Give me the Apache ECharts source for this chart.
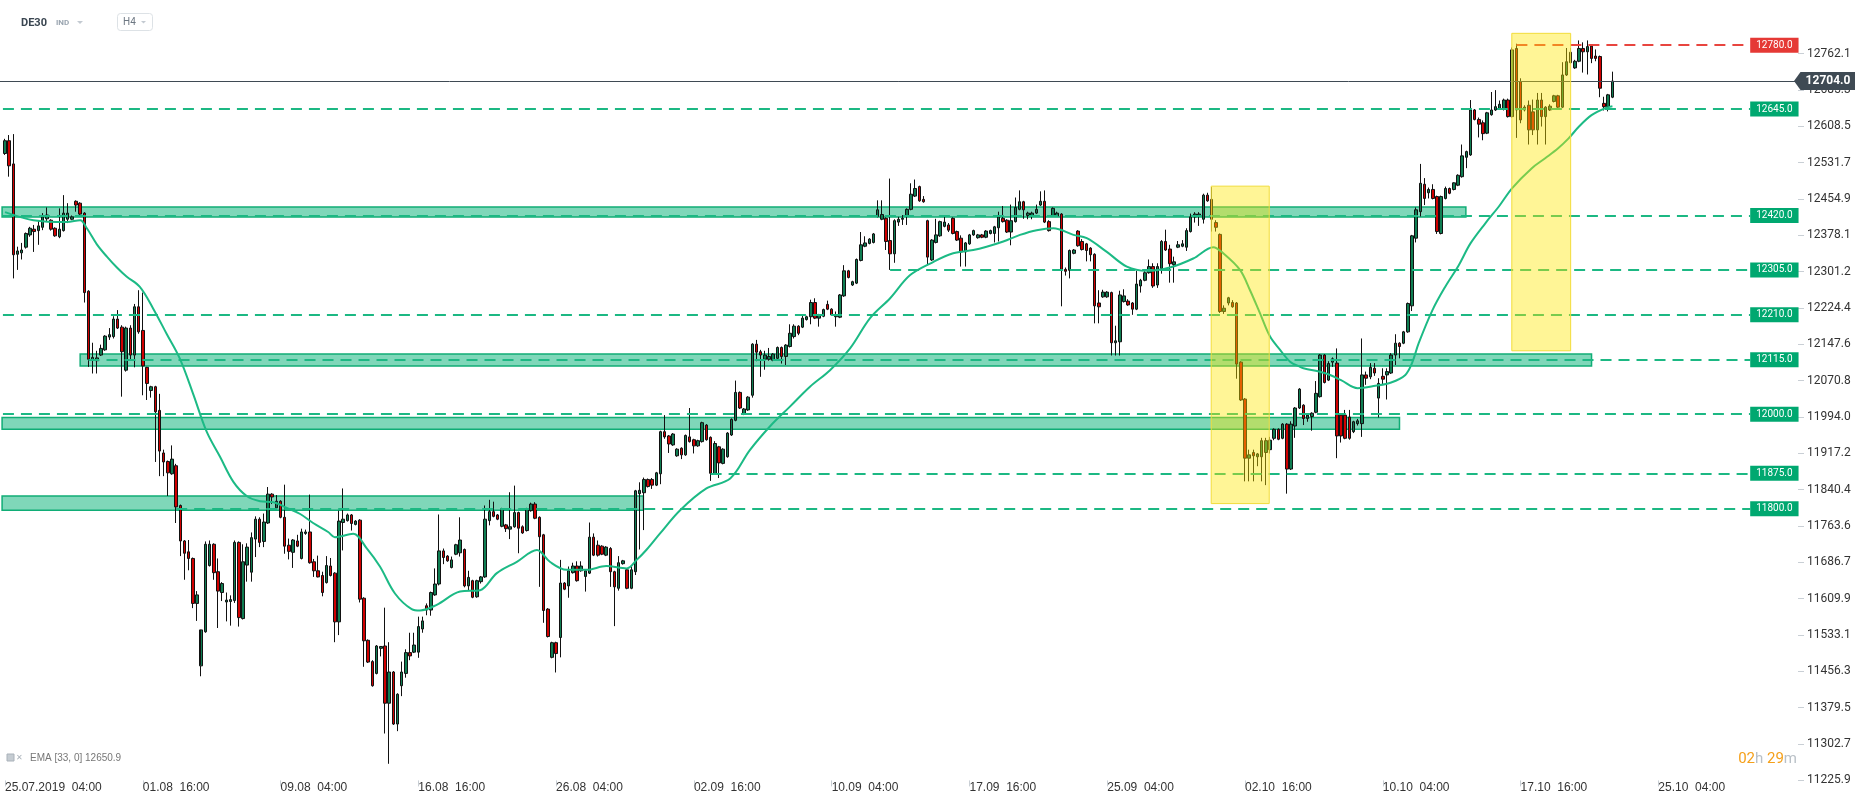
<!DOCTYPE html>
<html><head><meta charset="utf-8">
<script src="https://cdn.jsdelivr.net/npm/echarts@6/dist/echarts.min.js"></script>
<style>html,body{margin:0;padding:0;background:#fff}#c{width:1866px;height:805px}</style>
</head><body><div id="c"></div>
<script>
// ---- DATA (H4 candles, index 0 = 25.07.2019 04:00) ----
const ohlc = [
[12551,12578,12548,12582],[12578,12525,12502,12590],[12529,12337,12287,12592],[12338,12345,12305,12354],[12341,12347,12327,12362],
[12353,12382,12350,12384],[12379,12393,12375,12396],[12391,12386,12343,12400],[12388,12398,12358,12410],[12395,12417,12389,12425],
[12413,12421,12408,12437],[12410,12391,12388,12412],[12393,12377,12375,12395],[12375,12391,12372,12435],[12388,12425,12386,12463],
[12412,12425,12404,12446],[12412,12417,12410,12420],[12450,12442,12428,12452],[12446,12423,12420,12448],[12425,12257,12236,12427],
[12260,12116,12100,12262],[12115,12120,12086,12151],[12113,12119,12086,12134],[12125,12139,12123,12147],[12136,12165,12134,12167],
[12163,12168,12157,12182],[12164,12201,12160,12207],[12201,12182,12180,12220],[12184,12132,12037,12188],[12093,12182,12090,12185],
[12182,12125,12115,12188],[12125,12227,12099,12233],[12227,12174,12170,12262],[12177,12102,12040,12257],[12099,12065,12030,12100],
[12050,12058,12035,12060],[12058,12005,11899,12060],[12008,11922,11869,12043],[11918,11899,11869,11925],[11900,11876,11827,11902],
[11874,11905,11872,11934],[11891,11804,11770,11895],[11807,11732,11700,11809],[11732,11706,11650,11734],[11709,11695,11670,11734],
[11695,11600,11590,11697],[11600,11618,11563,11626],[11468,11544,11446,11470],[11540,11725,11538,11731],[11680,11725,11678,11733],
[11725,11665,11650,11727],[11667,11626,11548,11695],[11623,11642,11605,11645],[11603,11607,11562,11623],[11604,11608,11553,11617],
[11606,11729,11601,11733],[11729,11570,11551,11731],[11568,11688,11566,11725],[11681,11719,11646,11727],[11666,11739,11646,11750],
[11736,11778,11698,11784],[11778,11729,11719,11782],[11731,11772,11719,11790],[11770,11831,11768,11846],[11831,11825,11810,11833],
[11802,11816,11800,11829],[11816,11782,11780,11818],[11782,11721,11705,11851],[11723,11710,11693,11737],[11708,11734,11675,11736],
[11732,11721,11719,11745],[11695,11751,11693,11758],[11748,11751,11745,11756],[11751,11686,11684,11830],[11688,11669,11656,11694],
[11669,11656,11655,11701],[11659,11623,11615,11667],[11644,11680,11642,11700],[11679,11659,11657,11696],[11664,11561,11518,11666],
[11561,11774,11533,11796],[11771,11778,11712,11843],[11775,11787,11773,11790],[11787,11769,11754,11789],[11767,11774,11765,11776],
[11776,11609,11602,11778],[11611,11521,11466,11613],[11522,11476,11474,11524],[11477,11426,11424,11480],[11452,11510,11450,11512],
[11505,11509,11488,11510],[11510,11389,11325,11591],[11389,11455,11261,11518],[11455,11345,11343,11457],[11345,11408,11330,11410],
[11426,11455,11404,11477],[11452,11496,11443,11503],[11496,11489,11480,11538],[11497,11512,11495,11538],[11497,11551,11485,11572],
[11546,11563,11538,11572],[11595,11586,11575,11600],[11586,11623,11574,11625],[11618,11641,11616,11674],[11641,11711,11638,11788],
[11711,11697,11683,11716],[11700,11690,11688,11702],[11676,11692,11674,11699],[11704,11724,11702,11726],[11707,11734,11699,11782],
[11714,11637,11634,11716],[11637,11655,11627,11669],[11648,11613,11611,11650],[11614,11648,11612,11650],[11646,11656,11642,11658],
[11656,11778,11654,11807],[11775,11794,11765,11819],[11794,11784,11782,11815],[11787,11778,11776,11789],[11763,11800,11761,11802],
[11766,11758,11751,11768],[11757,11762,11736,11835],[11762,11792,11760,11849],[11792,11759,11706,11794],[11762,11749,11747,11765],
[11754,11799,11752,11802],[11796,11810,11794,11813],[11810,11780,11778,11814],[11782,11741,11635,11784],[11745,11585,11559,11747],
[11588,11530,11528,11590],[11486,11517,11484,11519],[11517,11494,11454,11519],[11528,11643,11486,11692],[11643,11630,11628,11645],
[11637,11669,11612,11678],[11665,11679,11663,11686],[11679,11648,11646,11689],[11669,11679,11667,11689],[11657,11669,11625,11671],
[11664,11740,11662,11771],[11740,11702,11700,11748],[11723,11702,11699,11733],[11721,11704,11702,11723],[11702,11719,11700,11721],
[11716,11667,11635,11719],[11667,11635,11552,11669],[11632,11686,11627,11700],[11684,11690,11682,11692],[11671,11632,11630,11673],
[11632,11671,11630,11678],[11667,11838,11660,11840],[11832,11839,11714,11856],[11834,11862,11755,11866],[11862,11847,11845,11864],
[11862,11850,11842,11865],[11850,11876,11848,11878],[11874,11963,11852,11965],[11963,11952,11948,11998],[11954,11937,11918,11956],
[11935,11958,11933,11960],[11912,11926,11910,11928],[11928,11914,11905,11930],[11914,11955,11912,11957],[11952,11942,11940,12013],
[11946,11933,11917,11948],[11933,11944,11931,11946],[11942,11982,11940,11984],[11977,11946,11944,11979],[11951,11875,11859,11953],
[11874,11938,11872,11943],[11931,11897,11865,11933],[11896,11926,11894,11928],[11910,11960,11908,11962],[11956,11989,11954,11991],
[11987,12046,11985,12071],[12046,12013,12011,12048],[12000,12011,11998,12013],[12009,12036,12007,12038],[12040,12148,12035,12150],
[12148,12131,12112,12157],[12132,12125,12079,12136],[12116,12125,12094,12134],[12116,12122,12113,12140],[12114,12127,12112,12129],
[12118,12141,12116,12143],[12141,12122,12107,12143],[12122,12146,12104,12148],[12143,12171,12141,12190],[12164,12186,12160,12190],
[12186,12171,12167,12188],[12184,12203,12182,12208],[12200,12206,12198,12208],[12206,12236,12190,12242],[12236,12203,12201,12245],
[12203,12210,12185,12212],[12207,12221,12205,12223],[12232,12222,12220,12240],[12222,12210,12208,12224],[12206,12210,12185,12217],
[12205,12252,12203,12254],[12250,12303,12248,12315],[12303,12289,12287,12305],[12273,12280,12271,12282],[12277,12327,12275,12329],
[12325,12358,12323,12385],[12355,12362,12353,12376],[12361,12370,12359,12372],[12363,12381,12361,12383],[12418,12432,12416,12452],
[12412,12422,12410,12452],[12414,12365,12347,12416],[12367,12339,12305,12498],[12339,12409,12320,12412],[12406,12412,12398,12417],
[12412,12414,12400,12421],[12419,12433,12400,12435],[12433,12465,12431,12488],[12461,12477,12459,12496],[12481,12451,12449,12483],
[12454,12449,12447,12461],[12409,12332,12315,12411],[12326,12368,12324,12370],[12363,12379,12361,12413],[12377,12407,12375,12409],
[12397,12406,12395,12421],[12400,12389,12385,12404],[12414,12382,12380,12416],[12386,12368,12366,12388],[12372,12343,12312,12378],
[12343,12362,12312,12364],[12360,12379,12358,12381],[12379,12388,12377,12390],[12373,12379,12371,12381],[12379,12374,12372,12381],
[12374,12387,12372,12389],[12382,12388,12380,12390],[12382,12396,12363,12398],[12394,12417,12365,12428],[12414,12407,12405,12440],
[12410,12385,12383,12412],[12385,12409,12357,12443],[12407,12437,12405,12458],[12433,12449,12431,12473],[12449,12432,12413,12451],
[12420,12425,12412,12428],[12418,12425,12412,12428],[12425,12433,12423,12443],[12442,12450,12440,12471],[12450,12406,12404,12473],
[12407,12388,12386,12410],[12419,12435,12417,12437],[12419,12425,12417,12428],[12423,12306,12228,12425],[12306,12302,12293,12310],
[12304,12346,12287,12348],[12340,12347,12338,12349],[12387,12356,12354,12389],[12365,12348,12346,12370],[12360,12346,12323,12362],
[12351,12337,12323,12353],[12338,12229,12192,12340],[12235,12227,12192,12262],[12248,12258,12246,12263],[12248,12258,12246,12260],
[12257,12151,12124,12259],[12151,12155,12124,12187],[12153,12252,12124,12261],[12238,12250,12236,12264],[12239,12231,12229,12243],
[12235,12222,12210,12237],[12222,12275,12220,12303],[12271,12283,12257,12286],[12283,12299,12281,12304],[12299,12312,12297,12327],
[12312,12271,12267,12319],[12273,12312,12267,12319],[12308,12365,12297,12368],[12365,12347,12345,12390],[12349,12318,12278,12358],
[12316,12322,12278,12333],[12353,12358,12351,12366],[12355,12360,12353,12368],[12353,12388,12345,12393],[12386,12417,12384,12424],
[12417,12423,12405,12427],[12419,12423,12398,12427],[12412,12463,12403,12466],[12463,12451,12449,12468],[12454,12412,12386,12480],
[12405,12395,12386,12410],[12380,12217,12214,12382],[12217,12224,12212,12230],[12235,12246,12230,12248],[12236,12227,12225,12241],
[12235,12106,12075,12237],[12110,12030,12028,12112],[12032,11907,11858,12034],[11907,11914,11858,11925],[11919,11912,11858,11925],
[11910,11916,11890,11918],[11910,11944,11858,11950],[11919,11944,11850,11950],[11925,11945,11917,11952],[11949,11968,11945,11970],
[11968,11947,11945,11970],[11949,11979,11947,11981],[11979,11884,11832,11981],[11884,11979,11882,11985],[11975,12013,11950,12015],
[12013,12053,12011,12055],[12019,11991,11977,12021],[11991,11998,11984,12000],[11995,12002,11965,12004],[12004,12044,12002,12070],
[12037,12125,12035,12127],[12125,12067,12065,12127],[12072,12107,12070,12112],[12110,12117,12100,12120],[12108,11954,11907,12139],
[11998,11954,11940,12000],[11998,11949,11947,12009],[11994,11949,11946,12009],[11963,11984,11960,11986],[11980,11986,11976,11990],
[11980,12083,11952,12160],[12083,12076,12062,12090],[12079,12099,12074,12108],[12097,12087,12081,12108],[12034,12065,11993,12076],
[12080,12074,12062,12097],[12083,12090,12031,12097],[12087,12125,12085,12129],[12125,12150,12104,12169],[12150,12143,12118,12152],
[12150,12174,12148,12176],[12174,12234,12172,12236],[12229,12377,12218,12379],[12372,12432,12363,12437],[12428,12488,12418,12529],
[12486,12456,12442,12499],[12468,12475,12456,12479],[12475,12456,12454,12486],[12460,12386,12381,12462],[12382,12460,12380,12462],
[12456,12477,12454,12481],[12477,12467,12465,12479],[12475,12489,12473,12490],[12484,12505,12482,12507],[12502,12546,12500,12570],
[12543,12555,12520,12557],[12548,12643,12546,12664],[12643,12623,12621,12645],[12623,12613,12585,12627],[12616,12593,12579,12621],
[12594,12637,12592,12639],[12633,12643,12631,12681],[12643,12650,12641,12685],[12646,12655,12644,12663],[12644,12664,12642,12667],
[12664,12629,12627,12667],[12629,12770,12627,12775],[12773,12643,12584,12783],[12703,12622,12615,12710],[12643,12649,12640,12653],
[12653,12601,12570,12663],[12639,12601,12590,12665],[12601,12664,12570,12679],[12664,12629,12608,12679],[12629,12649,12570,12651],
[12643,12651,12641,12655],[12661,12673,12659,12675],[12673,12649,12647,12675],[12649,12717,12647,12744],[12717,12745,12715,12774],
[12743,12765,12741,12774],[12732,12746,12730,12749],[12746,12773,12744,12790],[12773,12766,12722,12786],[12766,12777,12718,12790],
[12778,12752,12742,12781],[12757,12752,12746,12771],[12756,12689,12670,12758],[12657,12650,12642,12671],[12650,12675,12640,12677],
[12670,12704,12668,12724]
];
// EMA(33) line: [candle position, value]
const emaPts = [
[0,12427],[6.8,12410],[14.8,12406],[18,12410],[19.6,12393],[22,12359],[24.4,12333],[26.8,12310],[29.1,12291],[32.3,12269],
[35.5,12223],[38.7,12170],[41.9,12117],[45.1,12042],[48.3,11963],[51.5,11910],[54.7,11857],[57.9,11827],[61.1,11816],[64.3,11814],
[67.5,11802],[70.7,11789],[73.8,11770],[77.4,11751],[79,11740],[83.4,11747],[86.6,11717],[89.8,11678],[93.4,11621],[97.4,11588],
[99.4,11585],[103.4,11597],[109,11625],[113.8,11628],[117.8,11664],[122.6,11688],[127.4,11713],[130.5,11688],[134.5,11671],[139.3,11671],
[144,11679],[148.9,11674],[151.3,11692],[153.7,11714],[156.9,11748],[161.7,11797],[168,11843],[173.7,11864],[178.4,11924],[183.2,11974],
[188,12016],[192.8,12058],[197.6,12093],[202.4,12139],[207.2,12203],[212,12245],[216.8,12294],[222.4,12322],[227.1,12340],[231.9,12347],
[235.1,12354],[239.1,12365],[243.1,12379],[247.1,12389],[251.1,12393],[255.9,12379],[259.1,12372],[263.9,12343],[268.7,12312],[273.5,12303],
[279,12310],[284.6,12329],[289.4,12353],[291.8,12340],[295.8,12305],[298.2,12262],[300.6,12213],[303,12164],[305.4,12136],[307.8,12111],
[310.2,12100],[311,12097],[316.4,12086],[320,12072],[324,12055],[328.2,12060],[332,12067],[335.4,12083],[337,12108],[338.6,12150],
[341.9,12220],[345,12270],[348.2,12315],[351,12361],[354.6,12404],[357.8,12439],[361,12478],[365.7,12520],[368.9,12541],[372,12562],
[374.5,12583],[377,12608],[380,12632],[383.3,12647],[385,12650.9]
];
const tickIdx = [0,33,66,99,132,165,198,231,264,297,330,363,396];
const tickLabels = ['25.07.2019  04:00','01.08  16:00','09.08  04:00','16.08  16:00','26.08  04:00','02.09  16:00','10.09  04:00',
  '17.09  16:00','25.09  04:00','02.10  16:00','10.10  04:00','17.10  16:00','25.10  04:00'];
const priceAxisMin = 11225.88, priceAxisStep = 76.8115;
const levelPrices = [12780,12645,12420,12305,12210,12115,12000,11875,11800];
const levelStart  = [362,-0.5,-0.5,212,-0.5,20,-0.5,169,41];
const levelRed    = [true,false,false,false,false,false,false,false,false];
const levelEnd = 418;
// zones: [fromIdx, toIdx, lowPrice, highPrice]
const zones = [[-0.7,349.9,12417,12438],[18,380,12102,12127],[-0.7,334,11968,11993],[-0.7,152.9,11797,11827]];
const yellowBoxes = [[288.9,302.8,11811,12482],[360.9,375.0,12134,12805]];
const lastClose = 12704.0;
const emaLast = 12650.9;

// ---- CHART ----
const chart = echarts.init(document.getElementById('c'), null, {renderer:'canvas'});
const candleData = ohlc.map((r,i)=>[i, r[0], r[1], r[2], r[3]]);
const GREEN_L = '#1cb883', GREEN_B = '#00a870', RED_L = '#e8453f', RED_B = '#e53935';

const levelLines = levelPrices.map((p,k)=>[
  {coord:[levelStart[k], p], symbol:'none',
   lineStyle:{color: levelRed[k]?RED_L:GREEN_L, type:[11,7], width:2},
   label:{show:true, position:'end', distance:0, formatter: p.toFixed(1),
     backgroundColor: levelRed[k]?RED_B:GREEN_B, color:'#fff', fontSize:10, fontFamily:'Roboto',
     lineHeight:12, padding:[2,6,1,6]}},
  {coord:[levelEnd, p], symbol:'none'}
]);
levelLines.push([
  {coord:[-1.2, lastClose], symbol:'none', lineStyle:{color:'#3f4a54', type:'solid', width:1}, label:{show:false}},
  {coord:[429.4, lastClose], symbol:'none'}
]);

chart.setOption({
  animation:false,
  backgroundColor:'#fff',
  grid:{left:0, right:68, top:20, bottom:24.6},
  xAxis:{type:'value', min:-1.2, max:429.45,
    axisLine:{show:false, onZero:false}, splitLine:{show:false},
    axisTick:{show:true, customValues:tickIdx, length:6, lineStyle:{color:'#c9cfd5'}},
    axisLabel:{customValues:tickIdx, formatter:(v)=>tickLabels[tickIdx.indexOf(v)]||'', align:'left',
      margin:1, fontSize:12, color:'#333', fontFamily:'Liberation Sans'}},
  yAxis:{type:'value', position:'right', min:priceAxisMin, max:12833.2, interval:priceAxisStep,
    axisLine:{show:false, onZero:false}, splitLine:{show:false},
    axisTick:{show:true, length:6, lineStyle:{color:'#c9cfd5'}},
    axisLabel:{formatter:(v)=>v.toFixed(1), showMaxLabel:false, margin:9, fontSize:12, color:'#333', fontFamily:'Roboto'}},
  series:[
    {type:'candlestick', data:candleData, barWidth:3, z:2,
     itemStyle:{color:'#0f7d52', color0:'#d00000', borderColor:'#111', borderColor0:'#111', borderColorDoji:'#111', borderWidth:1},
     markArea:{silent:true, z:1,
       data: zones.map(z=>[{coord:[z[0],z[3]], itemStyle:{color:'rgba(0,176,116,0.5)', borderColor:'#10ad76', borderWidth:1.5}},{coord:[z[1],z[2]]}])},
     markLine:{silent:true, z:5, symbol:['none','none'], animation:false, data:levelLines}
    },
    {type:'line', data:emaPts, smooth:0.35, showSymbol:false, z:3,
     lineStyle:{color:'#1cba85', width:2},
     markArea:{silent:true, z:10,
       data: yellowBoxes.map(b=>[{coord:[b[0],b[3]], itemStyle:{color:'rgba(255,230,0,0.41)', borderColor:'#f2dc3a', borderWidth:1}},{coord:[b[1],b[2]]}])}
    }
  ]
});

// price tag and header texts
const py = chart.convertToPixel({yAxisIndex:0}, lastClose);
chart.setOption({graphic:[
  {type:'polygon', z:100, shape:{points:[[1794,py],[1800.5,py-9],[1855,py-9],[1855,py+9],[1800.5,py+9]]}, style:{fill:'#3f4a54'}},
  {type:'text', z:101, x:1828, y:py, style:{text:lastClose.toFixed(1), fill:'#fff', font:'bold 12px Roboto', align:'center', verticalAlign:'middle'}},
  {type:'text', x:21, y:23, style:{text:'DE30', fill:'#3a4651', font:'bold 11px Roboto', verticalAlign:'middle'}},
  {type:'text', x:56, y:23, style:{text:'IND', fill:'#9aa5b0', font:'bold 8px Roboto', verticalAlign:'middle'}},
  {type:'polygon', shape:{points:[[77,21],[83,21],[80,24]]}, style:{fill:'#c3cad1'}},
  {type:'rect', shape:{x:117.5, y:13.5, width:35, height:17, r:3}, style:{fill:'#fff', stroke:'#dde2e6', lineWidth:1}},
  {type:'text', x:123, y:22.5, style:{text:'H4', fill:'#6d7782', font:'10px Roboto', verticalAlign:'middle'}},
  {type:'polygon', shape:{points:[[141,21],[146,21],[143.5,23.5]]}, style:{fill:'#c3cad1'}},
  {type:'rect', shape:{x:7, y:754, width:7, height:7}, style:{fill:'#c5ccd2', stroke:'#aab2ba', lineWidth:1}},
  {type:'text', x:16, y:757.5, style:{text:'✕', fill:'#aab2ba', font:'8px DejaVu Sans', verticalAlign:'middle'}},
  {type:'text', x:30, y:758, style:{text:'EMA [33, 0] '+emaLast.toFixed(1), fill:'#777', font:'10px Liberation Sans', verticalAlign:'middle'}},
  {type:'text', x:1797, y:759, style:{text:'{o|02}{g|h }{o|29}{g|m}', align:'right', verticalAlign:'middle',
     rich:{o:{fill:'#f5a01a', font:'15px Roboto'}, g:{fill:'#b9c0c7', font:'15px Roboto'}}}}
]});
</script></body></html>
